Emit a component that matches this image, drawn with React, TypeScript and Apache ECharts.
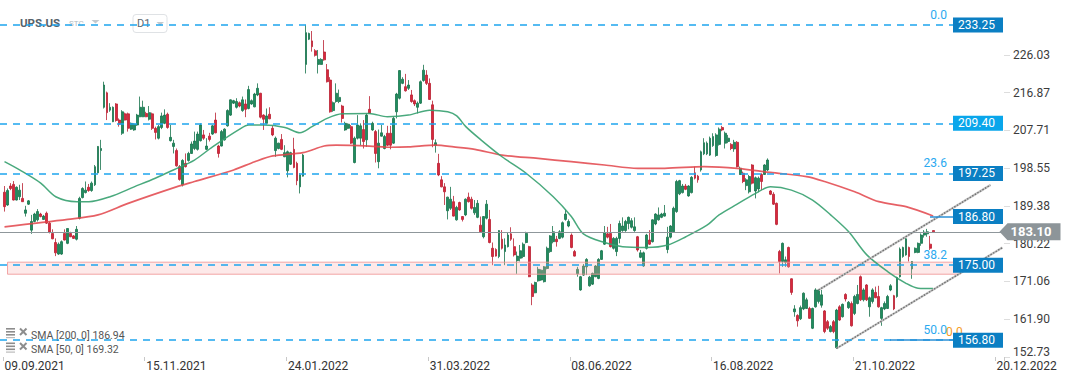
import React, { useEffect, useRef } from 'react';
import * as echarts from 'echarts';

// ---------- data ----------
const xTickLabels = ['09.09.2021', '15.11.2021', '24.01.2022', '31.03.2022', '08.06.2022', '16.08.2022', '21.10.2022', '20.12.2022'];
const barsPerTickLabel = 47;
const slotCount = 332;

const yTickLabels = ['152.73', '161.90', '171.06', '180.22', '189.38', '198.55', '207.71', '216.87', '226.03'];
const yMin = 152.73;
const yMax = 239.32;

// [open, close, low, high]
const ohlc: number[][] = [
  [192.7,189.2,188.0,194.2],[189.6,193.1,189.4,193.6],[194.2,193.6,193.2,194.9],[194.6,190.8,190.7,195.4],[190.8,193.9,190.7,194.1],
  [191.6,193.2,190.8,194.5],[191.2,190.4,190.4,194.9],[187.6,188.4,186.8,189.4],[189.8,190.6,189.6,190.8],[183.5,185.6,182.6,187.2],
  [185.6,187.4,185.4,187.7],[186.0,188.0,185.6,188.6],[187.4,186.8,186.6,187.7],[186.1,186.9,186.0,187.2],[187.6,185.2,185.0,188.0],
  [185.2,183.0,182.7,185.6],[182.7,181.4,181.3,183.7],[180.5,178.0,177.2,181.5],[177.7,180.1,177.5,180.5],[177.7,180.7,177.5,181.0],
  [182.7,181.1,181.0,183.7],[180.3,183.9,180.1,183.9],[182.7,181.9,181.8,183.1],[182.1,181.5,181.4,182.3],[181.3,183.7,181.0,184.5],
  [186.4,191.2,186.1,191.6],[191.4,193.6,191.2,193.9],[192.6,193.2,192.4,195.3],[193.9,193.1,192.8,194.7],[193.1,194.9,192.8,195.3],
  [194.5,198.9,194.2,199.3],[197.4,203.8,197.3,203.9],[202.8,203.3,198.1,205.4],[213.3,218.7,213.0,219.5],[216.8,212.0,210.2,217.1],
  [212.6,213.3,212.2,214.3],[209.8,213.3,209.7,213.5],[214.1,210.1,209.8,214.3],[210.2,209.2,208.6,210.6],[207.0,212.2,206.6,212.6],
  [211.7,210.2,210.1,212.0],[211.7,208.2,207.4,212.0],[208.0,209.4,207.8,209.6],[207.8,209.2,207.6,209.4],[209.0,211.4,208.8,211.7],
  [211.0,213.3,210.9,215.9],[211.0,213.3,210.9,214.9],[211.8,211.0,210.9,212.2],[210.4,212.0,210.1,213.6],[211.7,208.2,207.8,212.0],
  [208.2,207.2,205.5,208.6],[205.8,208.6,205.5,209.0],[208.4,211.2,208.0,212.0],[209.4,211.4,209.2,212.8],[211.6,208.4,208.1,212.0],
  [205.2,206.0,205.0,209.0],[203.8,204.6,202.1,205.4],[202.8,199.1,198.9,203.3],[198.9,195.8,195.5,199.3],[194.5,200.4,194.1,200.7],
  [199.7,198.9,198.7,202.1],[200.4,202.1,200.1,202.5],[202.1,204.4,202.0,205.0],[203.3,205.1,202.9,207.4],[203.1,206.8,202.8,207.4],
  [205.2,209.0,205.0,209.4],[206.6,205.8,205.4,207.8],[203.1,203.9,202.9,205.8],[206.3,205.5,205.0,207.1],[206.8,208.8,206.6,209.0],
  [210.2,207.1,207.0,212.0],[203.9,202.1,201.1,204.2],[203.9,207.4,203.8,207.8],[205.4,208.0,205.2,208.2],[208.8,212.5,208.6,212.8],
  [211.4,215.1,211.2,215.2],[214.3,214.9,214.1,215.1],[213.3,214.7,213.0,215.5],[214.4,213.6,213.3,214.7],[212.5,215.1,212.2,215.9],
  [214.1,212.8,210.9,215.2],[213.0,217.6,212.8,218.5],[214.1,214.9,213.9,215.2],[213.4,216.5,213.3,216.8],[216.3,217.9,216.0,219.1],
  [216.7,210.9,210.6,216.8],[211.4,210.4,207.8,211.6],[209.4,211.2,209.2,213.0],[211.6,210.5,210.4,213.3],[208.2,206.6,206.3,208.8],
  [202.8,205.8,201.3,206.2],[203.3,204.6,203.1,204.7],[205.5,203.1,202.9,206.8],[201.3,202.3,201.2,204.1],[197.9,202.5,196.3,202.8],
  [199.5,202.3,199.3,202.5],[203.1,198.7,198.5,205.9],[199.7,195.5,194.4,200.1],[194.0,196.9,192.4,197.3],[196.6,201.7,196.5,202.0],
  [223.7,231.4,221.5,233.3],[229.8,231.2,229.6,231.4],[229.4,228.0,226.8,231.8],[227.0,225.9,225.6,227.4],[223.7,224.9,221.5,227.2],
  [223.7,224.9,223.6,225.2],[226.7,224.8,224.6,229.6],[222.4,219.5,219.3,223.8],[219.9,212.2,212.0,220.6],[212.5,214.4,212.2,214.7],
  [214.7,216.7,214.4,219.1],[214.7,215.7,214.3,217.6],[213.6,210.6,209.6,213.9],[207.8,209.4,207.6,209.8],[208.2,209.2,208.0,209.4],
  [208.6,204.6,204.4,209.0],[199.9,205.8,199.7,206.2],[205.8,209.0,205.5,211.4],[205.8,208.8,204.1,209.4],[207.9,205.0,203.3,210.2],
  [205.4,211.4,203.7,211.8],[212.8,211.8,211.7,216.0],[207.8,209.4,207.6,209.8],[207.4,202.1,199.9,207.8],[200.1,204.6,198.5,207.9],
  [206.3,207.1,206.2,209.0],[203.3,206.2,203.1,206.6],[207.0,204.1,203.9,208.8],[207.0,204.1,203.1,208.8],[204.6,210.6,204.4,211.0],
  [212.2,216.5,210.6,216.8],[215.5,222.2,215.2,222.3],[219.1,220.1,218.9,220.6],[218.3,217.3,217.1,221.4],[217.9,218.7,217.5,219.9],
  [216.3,214.7,214.4,217.5],[214.9,214.1,213.6,215.2],[213.3,214.3,211.8,214.7],[214.3,219.5,214.1,219.8],[219.8,222.3,219.5,223.6],
  [221.1,219.1,218.7,222.3],[219.1,215.2,215.1,220.3],[213.9,205.5,203.6,214.9],[204.1,204.7,202.3,205.5],[199.7,196.9,196.6,202.0],
  [195.7,194.0,193.9,196.6],[194.0,192.8,189.6,194.9],[188.2,191.5,186.1,191.6],[188.8,191.0,188.4,194.0],[190.4,186.9,186.8,191.8],
  [186.0,189.0,185.8,189.4],[190.2,188.4,188.2,190.4],[186.8,186.1,185.6,186.9],[187.2,191.0,186.9,191.2],[191.5,190.4,190.2,192.6],
  [191.0,188.8,188.5,191.6],[187.7,189.0,187.2,190.8],[186.6,190.0,186.4,190.8],[184.7,183.1,182.9,186.8],[181.9,186.8,181.5,186.9],
  [186.4,189.8,186.1,190.8],[186.1,180.5,180.3,188.4],[179.1,177.1,175.0,180.5],[178.8,177.2,177.1,179.1],[177.1,183.4,176.7,183.5],
  [181.3,179.1,178.8,183.5],[178.3,179.9,175.0,181.5],[179.5,182.3,179.3,182.9],[182.6,181.3,180.9,184.2],[179.5,177.5,177.1,181.5],
  [176.1,177.2,172.9,178.3],[176.7,178.5,175.9,179.9],[177.1,180.1,176.7,180.5],[180.5,182.7,180.3,183.1],[179.5,172.2,172.1,179.7],
  [170.2,167.4,165.3,170.6],[168.3,170.8,168.2,171.0],[171.2,174.0,171.0,174.6],[171.4,173.8,171.2,174.0],[171.0,174.6,170.8,174.8],
  [174.2,179.1,174.0,179.5],[178.3,182.1,178.0,182.3],[180.7,183.1,180.3,184.5],[181.3,180.7,179.5,182.1],[181.5,183.1,181.3,183.5],
  [181.8,185.3,181.5,185.6],[186.1,187.4,185.8,188.5],[184.5,185.6,184.2,186.1],[182.3,179.3,179.1,182.7],[178.3,177.2,177.1,178.7],
  [172.9,174.0,172.2,174.6],[169.0,172.2,168.8,172.4],[172.6,174.8,172.4,175.3],[174.6,176.4,172.6,176.7],[170.0,172.1,169.8,172.4],
  [170.4,173.0,170.2,173.2],[172.2,174.8,172.1,175.0],[171.8,176.4,171.6,176.7],[176.4,178.5,176.3,178.7],[180.1,182.9,179.9,184.5],
  [182.6,181.8,181.5,184.3],[182.7,179.5,179.3,185.0],[179.1,181.5,178.8,181.8],[178.3,181.5,177.2,181.9],[181.5,185.1,180.3,185.8],
  [183.4,184.5,183.1,186.6],[183.4,185.6,183.1,186.0],[185.1,186.6,183.7,186.8],[184.2,185.8,183.9,186.4],[183.4,184.3,183.1,186.6],
  [181.9,178.7,178.3,182.1],[176.9,178.0,176.7,178.7],[174.8,178.0,174.6,178.3],[179.1,182.3,178.8,182.6],[181.1,180.1,179.9,183.5],
  [180.7,186.0,180.5,186.1],[185.0,187.4,184.7,187.6],[186.0,187.2,185.8,189.0],[186.6,187.4,186.4,187.7],[186.9,187.6,186.8,189.6],
  [178.8,181.8,177.9,184.3],[181.8,184.5,181.5,184.7],[183.1,188.8,182.9,189.2],[188.0,195.3,187.7,195.7],[192.3,195.5,192.0,195.7],
  [192.6,194.2,192.4,194.7],[194.2,193.4,193.2,194.7],[191.8,194.2,191.6,194.4],[192.6,196.3,192.4,196.6],[197.4,196.1,195.8,198.9],
  [196.6,195.7,195.0,196.9],[198.1,202.5,197.7,202.8],[202.0,204.7,201.7,205.8],[202.0,204.6,201.7,205.0],[201.7,205.8,201.5,206.2],
  [204.0,206.2,203.7,207.0],[201.6,206.6,201.3,207.0],[204.3,208.0,204.0,208.4],[208.4,207.8,207.5,208.8],[204.6,207.0,203.3,207.4],
  [205.0,205.8,204.6,206.6],[204.3,203.3,202.9,204.6],[203.2,204.8,202.5,205.4],[204.8,198.9,198.7,205.1],[197.0,198.5,196.9,198.9],
  [197.3,195.3,194.9,197.7],[194.3,195.7,193.2,196.1],[192.8,196.5,192.4,196.9],[199.3,194.9,194.6,199.5],[193.0,196.2,191.2,196.5],
  [193.5,196.1,192.7,196.5],[197.0,195.3,193.2,197.3],[197.0,199.3,196.9,199.5],[198.1,200.5,197.8,200.9],[193.0,192.2,192.0,193.2],
  [192.2,189.8,189.6,192.7],[190.0,184.9,184.7,190.2],[178.3,175.9,173.0,178.7],[175.9,180.3,174.6,180.5],[175.7,176.3,174.6,177.1],
  [179.3,174.6,174.4,179.5],[171.7,168.4,167.8,171.8],[163.7,164.4,162.5,165.3],[162.8,161.5,160.1,163.1],[162.0,164.7,161.7,165.2],
  [164.4,168.2,164.1,168.4],[164.5,166.6,164.4,167.1],[164.5,162.1,162.0,164.9],[159.7,164.5,159.5,164.7],[164.9,169.0,164.7,169.4],
  [166.2,169.0,165.7,169.2],[165.3,167.8,164.7,169.0],[163.9,158.9,158.5,164.1],[161.3,159.7,159.3,161.7],[158.9,160.1,158.7,160.5],
  [161.3,158.9,158.5,161.7],[155.0,164.1,154.7,164.4],[164.9,161.7,161.5,165.3],[162.5,165.5,162.3,165.7],[167.9,166.8,166.2,168.2],
  [164.7,166.0,164.4,166.3],[165.7,160.3,160.1,166.2],[163.3,167.4,162.9,167.8],[165.7,167.9,165.5,170.2],[172.2,166.6,166.3,172.5],
  [166.6,169.0,166.2,169.4],[170.2,166.6,166.3,170.4],[164.9,167.1,162.5,167.4],[166.2,169.0,165.7,169.4],[168.4,167.1,167.0,169.8],
  [167.4,164.9,164.7,170.0],[162.1,164.7,160.3,164.9],[164.4,165.7,164.1,166.2],[164.5,167.4,164.4,167.8],[169.0,170.0,168.7,170.4],
  [167.6,164.4,164.1,167.8],[167.4,172.0,167.1,172.2],[172.2,178.9,172.0,179.3],[177.1,179.3,176.8,179.5],[177.5,181.4,177.3,181.7],
  [179.3,177.1,175.9,179.5],[174.1,175.9,171.7,176.0],[178.1,179.1,177.9,179.3],[178.1,180.3,177.9,180.5],[180.3,182.3,179.7,182.7],
  [182.3,183.0,181.7,183.5],[182.6,183.1,181.9,183.8],[180.1,179.1,178.7,182.1],[183.4,183.1,183.0,183.4],
];

// [bar index, value]
const sma200: number[][] = [
  [0,184.3],[21,186.1],[31,187.2],[41,190.0],[57,194.0],[63,195.3],[76,198.1],[83,200.1],[89,201.5],[99,202.3],
  [106,203.9],[110,204.1],[121,203.9],[128,203.6],[134,203.7],[143,204.1],[149,203.7],[156,203.1],[165,201.7],[177,200.9],
  [188,200.1],[199,199.3],[210,198.5],[219,198.5],[232,198.9],[243,198.5],[254,197.5],[266,196.5],[272,195.3],[282,192.8],
  [290,190.4],[299,189.2],[308,186.94],
];
const sma50: number[][] = [
  [0,200.1],[5,198.1],[12,194.9],[17,191.6],[24,190.4],[28,190.4],[35,191.6],[43,194.0],[50,196.1],[56,198.1],
  [63,200.5],[69,203.7],[78,208.0],[81,209.0],[86,209.0],[93,208.4],[98,207.1],[102,208.6],[107,210.6],[112,211.7],
  [121,211.8],[127,211.0],[134,211.4],[141,212.6],[147,212.2],[150,211.2],[153,208.6],[158,205.4],[165,201.3],[173,197.3],
  [182,191.6],[188,186.8],[192,182.6],[199,180.5],[205,179.5],[213,179.3],[220,179.9],[226,181.9],[233,184.7],[237,187.2],
  [243,189.8],[250,192.8],[254,194.0],[261,193.2],[268,190.8],[274,187.2],[280,183.1],[286,177.5],[293,173.4],[299,170.6],
  [303,169.4],[308,169.32],
];

const dashedLevels = [233.25, 209.40, 197.25, 175.00, 156.80];
const solidLevel = 186.80;
const fibTexts = ['0.0', '23.6', '38.2', '50.0'];
const fibLevels = [233.25, 197.25, 175.00, 156.80];
const lastPrice = 183.10;
const bandPrices = [175.73, 172.81];
const bandBars = [1, 317];
const channelUpper: number[][] = [[270, 168.98], [327, 194.44]];
const channelLower: number[][] = [[276, 154.83], [331, 179.28]];
const legendNames = ['SMA [200, 0]', 'SMA [50, 0]'];
const legendValues = ['186.94', '169.32'];

// ---------- styles ----------
const FONT = 'Roboto';
const BOX_X = 953;
const AXIS_X = 1004;
const boxColors: Record<string, string> = {
  '233.25': '#0b7fc3', '209.40': '#09a6eb', '197.25': '#0b7fc3', '175.00': '#0b7fc3', '156.80': '#0b7fc3', '186.80': '#0b7fc3',
};
const hidden = { color: 'rgba(255,255,255,0)', width: 1, type: 'solid' };

function boxLabel(v: number) {
  const t = v.toFixed(2);
  return {
    show: true, position: 'end', distance: 0, formatter: t, color: '#fff',
    backgroundColor: boxColors[t] || '#0b7fc3', padding: [2, 5, 1, 5], width: 40,
    lineHeight: 12, fontSize: 12, fontFamily: FONT,
  };
}

function buildOption() {
  const categories = Array.from({ length: slotCount }, (_, i) => String(i));
  const dashStyle = { color: '#1ea5ee', width: 1.5, type: [7, 6] };
  const solidBlue = { color: '#2a8fd6', width: 1.5, type: 'solid' };

  const mlData: any[] = [];
  // orange fib text first so that the level box is drawn over it
  mlData.push([
    {
      x: 946, yAxis: 156.8, lineStyle: hidden,
      label: { show: true, position: 'insideStartTop', formatter: '0.0', color: '#f59a23', fontSize: 12, fontFamily: FONT, distance: [0, 2] },
    },
    { x: 990, yAxis: 156.8 },
  ]);
  fibLevels.forEach((v, i) => {
    mlData.push([
      {
        x: 880, yAxis: v, lineStyle: hidden,
        label: { show: true, position: 'insideEndTop', formatter: fibTexts[i], color: '#2aa9f0', fontSize: 12, fontFamily: FONT, distance: [1, 4] },
      },
      { x: 948, yAxis: v },
    ]);
  });
  dashedLevels.forEach((v) => {
    mlData.push([{ x: 0, yAxis: v, lineStyle: dashStyle, label: boxLabel(v) }, { x: BOX_X, yAxis: v }]);
  });
  mlData.push([{ x: 890, yAxis: 156.8, lineStyle: solidBlue, label: { show: false } }, { x: BOX_X, yAxis: 156.8 }]);
  mlData.push([{ x: 930, yAxis: solidLevel, lineStyle: solidBlue, label: boxLabel(solidLevel) }, { x: BOX_X, yAxis: solidLevel }]);
  mlData.push([
    { x: 0, yAxis: lastPrice, lineStyle: { color: '#8f979b', width: 1, type: 'solid' }, label: { show: false } },
    { x: AXIS_X, yAxis: lastPrice },
  ]);

  const legendGraphics: any[] = [];
  [335, 349.5].forEach((yc, r) => {
    const iy = yc - 3;
    legendGraphics.push(
      { type: 'rect', shape: { x: 6, y: iy - 4, width: 9, height: 1.6 }, style: { fill: '#8d8d8d' } },
      { type: 'rect', shape: { x: 6, y: iy - 1, width: 9, height: 1.6 }, style: { fill: '#8d8d8d' } },
      { type: 'rect', shape: { x: 6, y: iy + 2, width: 9, height: 1.6 }, style: { fill: '#8d8d8d' } },
      { type: 'rect', shape: { x: 6, y: iy + 5, width: 9, height: 1.2 }, style: { fill: '#bbbbbb' } },
      { type: 'line', shape: { x1: 20, y1: iy - 3.5, x2: 26.5, y2: iy + 3 }, style: { stroke: '#8d8d8d', lineWidth: 2 } },
      { type: 'line', shape: { x1: 26.5, y1: iy - 3.5, x2: 20, y2: iy + 3 }, style: { stroke: '#8d8d8d', lineWidth: 2 } },
      {
        type: 'text', x: 31, y: yc,
        style: { text: legendNames[r] + ' ' + legendValues[r], font: '10.5px ' + FONT, fill: '#555', verticalAlign: 'middle', align: 'left' },
      },
    );
  });

  return {
    animation: false,
    backgroundColor: '#ffffff',
    textStyle: { fontFamily: FONT },
    grid: { left: 3, right: 1072 - AXIS_X, top: 0, bottom: 25, containLabel: false },
    xAxis: {
      type: 'category',
      data: categories,
      boundaryGap: true,
      axisLine: { show: false },
      axisTick: {
        show: true, length: 4, lineStyle: { color: '#c8c8c8' },
        interval: (i: number) => i % barsPerTickLabel === 0,
      },
      axisLabel: {
        interval: (i: number) => i % barsPerTickLabel === 0,
        formatter: (_v: string, i: number) => (i % barsPerTickLabel === 0 ? xTickLabels[i / barsPerTickLabel] || '' : ''),
        align: 'left', margin: 3, color: '#333', fontSize: 12, fontFamily: FONT,
      },
      splitLine: { show: false },
    },
    yAxis: {
      type: 'value',
      position: 'right',
      min: yMin,
      max: yMax,
      axisLine: { show: false },
      splitLine: { show: false },
      axisTick: { show: true, length: 6, lineStyle: { color: '#dddddd' }, customValues: yTickLabels.map(Number) },
      axisLabel: {
        customValues: yTickLabels.map(Number),
        margin: 9, color: '#3c3c3c', fontSize: 12, fontFamily: FONT,
        formatter: (v: number) => {
          const idx = yTickLabels.map(Number).findIndex((x) => Math.abs(x - v) < 0.001);
          const s = idx >= 0 ? yTickLabels[idx] : v.toFixed(2);
          return idx === 0 ? '{low|' + s + '}' : s;
        },
        rich: { low: { padding: [0, 0, 10, 0], color: '#3c3c3c', fontSize: 12, fontFamily: FONT } },
      },
    },
    graphic: [
      { type: 'text', x: 20, y: 22.5, style: { text: 'UPS.US', font: 'bold 11.5px ' + FONT, fill: '#57626b', verticalAlign: 'middle', align: 'left' } },
      { type: 'text', x: 69, y: 23.5, style: { text: 'STC', font: '8px ' + FONT, fill: '#b2bac0', verticalAlign: 'middle', align: 'left' } },
      { type: 'polygon', shape: { points: [[91.5, 20], [99.5, 20], [95.5, 23.5]] }, style: { fill: '#c4c9cd' } },
      { type: 'rect', shape: { x: 133, y: 14.5, width: 34, height: 18, r: 3 }, style: { fill: 'rgba(255,255,255,0.7)', stroke: '#dfe2e5', lineWidth: 1 } },
      { type: 'text', x: 137, y: 23.5, style: { text: 'D1', font: '11px ' + FONT, fill: '#5c6670', verticalAlign: 'middle', align: 'left' } },
      { type: 'polygon', shape: { points: [[156.5, 22], [164, 22], [160.25, 25.5]] }, style: { fill: '#c4c9cd' } },
      ...legendGraphics,
    ],
    series: [
      {
        type: 'candlestick',
        name: 'UPS.US',
        data: ohlc,
        barWidth: 2.4,
        clip: false,
        itemStyle: {
          color: '#1f8d5e', color0: '#d8283d', borderColor: '#17724b', borderColor0: '#b91f31', borderWidth: 0.8,
        },
        markArea: {
          silent: true,
          z: 3,
          itemStyle: { color: 'rgba(247,175,175,0.28)', borderColor: 'rgba(240,150,150,0.85)', borderWidth: 1 },
          label: { show: false },
          data: [[{ xAxis: bandBars[0], yAxis: bandPrices[0] }, { xAxis: bandBars[1], yAxis: bandPrices[1] }]],
        },
        markLine: {
          silent: true,
          symbol: ['none', 'none'],
          data: mlData,
        },
        markPoint: {
          silent: true,
          data: [
            {
              x: 1030, yAxis: lastPrice,
              symbol: 'path://M0,8.5L8,0L61,0L61,17L8,17Z', symbolSize: [61, 17], symbolKeepAspect: false,
              itemStyle: { color: '#8d9599' },
              label: { show: true, position: 'inside', formatter: lastPrice.toFixed(2), color: '#fff', fontWeight: 'bold', fontSize: 13, fontFamily: FONT, offset: [1, 0] },
            },
          ],
        },
      },
      {
        type: 'line', name: 'SMA200', data: sma200, smooth: 0.3, symbol: 'none',
        lineStyle: { color: '#e2444a', width: 1.7, opacity: 0.85 }, z: 3,
      },
      {
        type: 'line', name: 'SMA50', data: sma50, smooth: 0.3, symbol: 'none',
        lineStyle: { color: '#35a06f', width: 1.5, opacity: 0.9 }, z: 3,
      },
      ...[channelUpper, channelLower].flatMap((pts) => [
        { type: 'line', data: pts, symbol: 'none', lineStyle: { color: '#c4c4c4', width: 2.2 }, z: 4 },
        { type: 'line', data: pts, symbol: 'none', lineStyle: { color: '#6e6e6e', width: 1.3, type: [1.5, 1.5] }, z: 4 },
      ]),
    ],
  };
}

export default function App() {
  const ref = useRef<HTMLDivElement>(null);
  useEffect(() => {
    if (!ref.current) return;
    const chart = echarts.init(ref.current, undefined, { renderer: 'svg' });
    chart.setOption(buildOption() as any);
    return () => chart.dispose();
  }, []);
  return (
    <div
      ref={ref}
      style={{ position: 'fixed', left: 0, top: 0, width: 1072, height: 382, background: '#fff' }}
    />
  );
}
